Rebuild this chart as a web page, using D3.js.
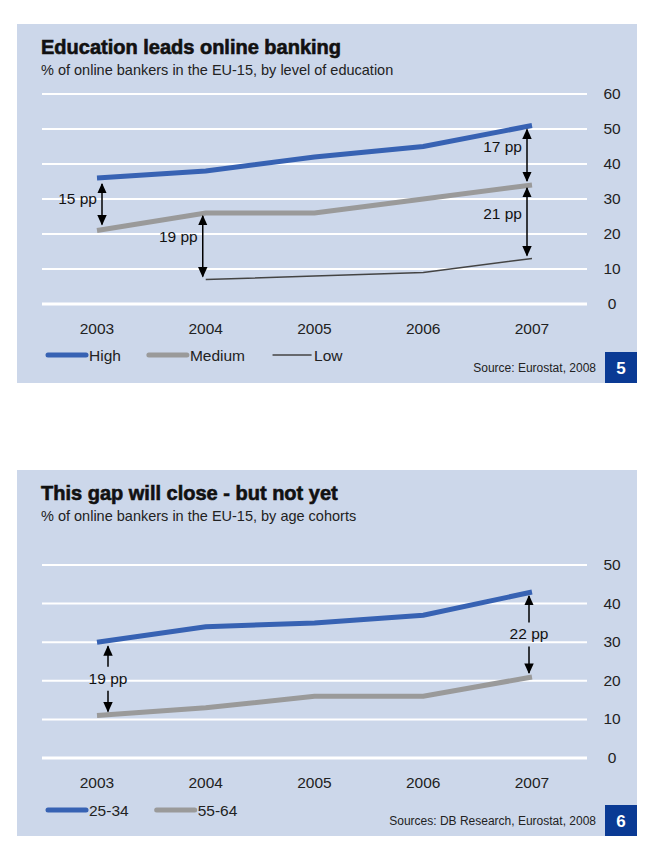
<!DOCTYPE html><html><head><meta charset="utf-8"><script src="https://cdn.jsdelivr.net/npm/d3@7"></script>
<style>body{margin:0;background:#fff}text{font-family:"Liberation Sans",Arial,sans-serif}</style></head><body><svg id="c" width="651" height="864"></svg>
<script>
const years=[2003,2004,2005,2006,2007];
const high=[36,38,42,45,51], medium=[21,26,26,30,34], low=[null,7,8,9,13];
const age2534=[30,34,35,37,43], age5564=[11,13,16,16,21];
const ticks1=[0,10,20,30,40,50,60], ticks2=[0,10,20,30,40,50];
const svg=d3.select("#c");
svg.append("defs").append("marker").attr("id","ah").attr("viewBox","0 0 10 10").attr("refX",9).attr("refY",5)
 .attr("markerWidth",7).attr("markerHeight",7).attr("orient","auto-start-reverse")
 .append("path").attr("d","M0,0.5L10,5L0,9.5z").attr("fill","#000");
function panel(o){
 const g=svg.append("g");
 g.append("rect").attr("x",17).attr("y",o.top).attr("width",620).attr("height",o.h).attr("fill","#ccd7ea");
 g.append("text").attr("x",41).attr("y",o.top+30).attr("font-size",20).attr("font-weight","900").attr("fill","#111").attr("stroke","#111").attr("stroke-width",0.6).text(o.title);
 g.append("text").attr("x",41).attr("y",o.top+51).attr("font-size",14.5).attr("fill","#222").text(o.sub);
 const x=d3.scalePoint().domain(years).range([97,532]);
 const y=d3.scaleLinear().domain([0,o.max]).range([o.y0,o.y1]);
 o.ticks.forEach(t=>{g.append("line").attr("x1",42).attr("x2",587).attr("y1",y(t)).attr("y2",y(t)).attr("stroke","#fff").attr("stroke-width",t===0?3:2);
  g.append("text").attr("x",612).attr("y",y(t)+5).attr("text-anchor","middle").attr("font-size",15.5).attr("fill","#222").text(t);});
 years.forEach(yr=>g.append("text").attr("x",x(yr)).attr("y",o.y0+30).attr("text-anchor","middle").attr("font-size",15.5).attr("fill","#222").text(yr));
 const line=d3.line().defined(d=>d!=null).x((d,i)=>x(years[i])).y(d=>y(d));
 o.series.forEach(s=>g.append("path").attr("d",line(s.v)).attr("fill","none").attr("stroke",s.c).attr("stroke-width",s.w));
 let lx=48;
 o.series.forEach(s=>{g.append("line").attr("x1",lx).attr("x2",lx+38).attr("y1",o.legY).attr("y2",o.legY).attr("stroke",s.c).attr("stroke-width",s.w).attr("stroke-linecap","round");
  const t=g.append("text").attr("x",lx+41).attr("y",o.legY+6).attr("font-size",15.5).attr("fill","#222").text(s.n);
  lx+=41+t.node().getComputedTextLength()+28;});
 g.append("text").attr("x",596).attr("y",o.top+o.h-11).attr("text-anchor","end").attr("font-size",12).attr("fill","#222").text(o.src);
 g.append("rect").attr("x",605).attr("y",o.top+o.h-31).attr("width",32).attr("height",31).attr("fill","#0a3a94");
 g.append("text").attr("x",621).attr("y",o.top+o.h-9).attr("text-anchor","middle").attr("font-size",17).attr("font-weight","bold").attr("fill","#fff").text(o.num);
 o.arrows.forEach(a=>{
  const xx=x(a.yr)+a.dx, ya=y(a.a)+a.g, yb=y(a.b)-a.g;
  if(a.split){const ym=(ya+yb)/2;
   g.append("line").attr("x1",xx).attr("x2",xx).attr("y1",ym-12).attr("y2",ya).attr("stroke","#000").attr("stroke-width",1.5).attr("marker-end","url(#ah)");
   g.append("line").attr("x1",xx).attr("x2",xx).attr("y1",ym+12).attr("y2",yb).attr("stroke","#000").attr("stroke-width",1.5).attr("marker-end","url(#ah)");
   g.append("text").attr("x",xx).attr("y",ym+5).attr("text-anchor","middle").attr("font-size",15.5).attr("fill","#111").text(a.t);
  } else {
   g.append("line").attr("x1",xx).attr("x2",xx).attr("y1",ya).attr("y2",yb).attr("stroke","#000").attr("stroke-width",1.5).attr("marker-start","url(#ah)").attr("marker-end","url(#ah)");
   g.append("text").attr("x",xx-5).attr("y",(ya+yb)/2+a.ty).attr("text-anchor","end").attr("font-size",15.5).attr("fill","#111").text(a.t);
  }});
}
panel({top:24,h:359,title:"Education leads online banking",sub:"% of online bankers in the EU-15, by level of education",
 max:60,y0:304,y1:94,ticks:ticks1,legY:355,src:"Source: Eurostat, 2008",num:"5",
 series:[{n:"High",v:high,c:"#3762b3",w:5},{n:"Medium",v:medium,c:"#9a9a9a",w:5},{n:"Low",v:low,c:"#444",w:1.5}],
 arrows:[{yr:2003,dx:5,a:high[0],b:medium[0],g:6,t:"15 pp",ty:0},{yr:2004,dx:-3,a:medium[1],b:low[1],g:3,t:"19 pp",ty:-4},
  {yr:2007,dx:-5,a:high[4],b:medium[4],g:4,t:"17 pp",ty:-3},{yr:2007,dx:-5,a:medium[4],b:low[4],g:3,t:"21 pp",ty:-3}]});
panel({top:470,h:366,title:"This gap will close - but not yet",sub:"% of online bankers in the EU-15, by age cohorts",
 max:50,y0:758,y1:565,ticks:ticks2,legY:810,src:"Sources:  DB Research, Eurostat, 2008",num:"6",
 series:[{n:"25-34",v:age2534,c:"#3762b3",w:5},{n:"55-64",v:age5564,c:"#9a9a9a",w:5}],
 arrows:[{yr:2003,dx:11,a:age2534[0],b:age5564[0],g:4,t:"19 pp",split:true},{yr:2007,dx:-3,a:age2534[4],b:age5564[4],g:4,t:"22 pp",split:true}]});
</script></body></html>
